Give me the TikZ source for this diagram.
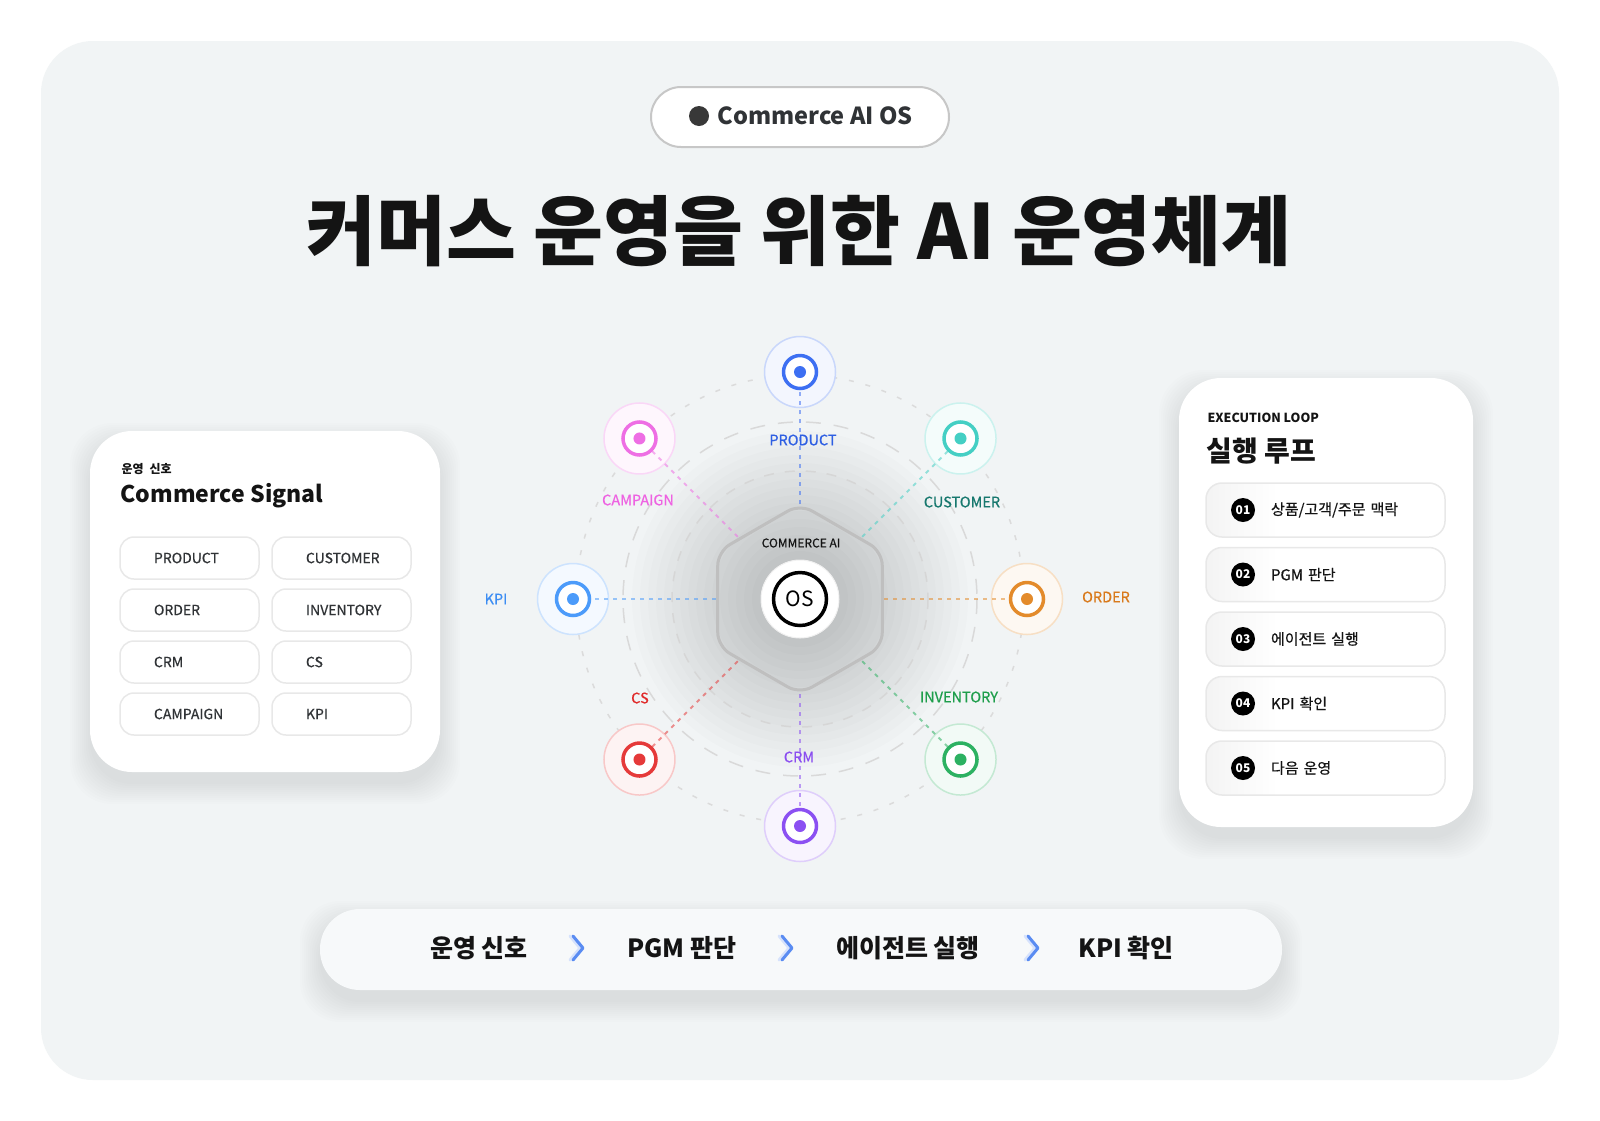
\documentclass[tikz,border=0pt]{standalone}
\usepackage{fontspec}
\setmainfont{Noto Sans CJK KR}
\newfontface\krmed{Noto Sans CJK KR}[FakeBold=0.6]
\usepackage{tikz}
\usetikzlibrary{calc}
\usetikzlibrary{arrows.meta}

\definecolor{pagebg}{HTML}{F1F4F5}
\definecolor{barbg}{HTML}{F7F9FA}
\definecolor{inkdark}{HTML}{141414}
\definecolor{inkmid}{HTML}{303336}
\definecolor{chevblue}{HTML}{5A8CF2}
\definecolor{cproduct}{HTML}{3D6FF2}
\definecolor{ccustomer}{HTML}{45CFC4}
\definecolor{corder}{HTML}{E38B2C}
\definecolor{cinventory}{HTML}{2DB162}
\definecolor{ccrm}{HTML}{8B50F2}
\definecolor{ccs}{HTML}{E53A3A}
\definecolor{ckpi}{HTML}{4C9BFA}
\definecolor{ccampaign}{HTML}{EE6FE4}
\definecolor{lproduct}{HTML}{2E5FE3}
\definecolor{lcustomer}{HTML}{17786E}
\definecolor{lorder}{HTML}{D97A1C}
\definecolor{linventory}{HTML}{1E9E4B}
\definecolor{lcrm}{HTML}{8A4DF0}
\definecolor{lcs}{HTML}{E02A2A}
\definecolor{lkpi}{HTML}{3C8DF3}
\definecolor{lcampaign}{HTML}{EE62E2}

\pgfdeclarehorizontalshading{itemfade}{100bp}{color(0bp)=(black!12);color(40bp)=(white);color(100bp)=(white)}

\newcommand\cardshadow[3]{%
  \foreach \s in {0,2,...,20}
    \fill[black, opacity=0.006, rounded corners=#3] ($(#1)+(-\s,-\s+12)$) rectangle ($(#2)+(\s,\s+12)$);
}

\tikzset{
  card/.style={fill=white, rounded corners=42pt},
  pill/.style={draw=black!22, line width=2pt, fill=white, rounded corners=30pt, minimum width=298pt, minimum height=60pt},
  chip/.style={draw=black!9, line width=1.5pt, fill=white, rounded corners=14pt, minimum height=42pt, inner sep=0pt, text width=139pt, align=left, text=inkmid, font=\krmed\fontsize{14}{16}\selectfont},
  loopitem/.style={draw=black!9, line width=1.5pt, shading=itemfade, rounded corners=16pt, minimum height=54pt, inner sep=0pt, text width=239pt, align=left, text=inkdark, font=\krmed\fontsize{15}{17}\selectfont},
  numbadge/.style={circle, fill=black, text=white, inner sep=0pt, minimum size=24pt, font=\bfseries\fontsize{12}{12}\selectfont},
  flowstep/.style={text=inkdark, font=\bfseries\fontsize{25}{28}\selectfont},
  chev/.style={line width=3pt, line cap=round, line join=round},
  halo/.style={circle, inner sep=0pt, minimum size=71pt, line width=1.5pt},
  ring/.style={circle, inner sep=0pt, minimum size=33pt, line width=3.5pt, fill=white},
  spoke/.style={dash pattern=on 4pt off 5pt, line width=2pt, opacity=0.55},
  siglabel/.style={font=\krmed\fontsize{14.5}{16}\selectfont},
}

\begin{document}
\begin{tikzpicture}[x=1pt, y=-1pt]
\useasboundingbox (0,0) rectangle (1600,1120);
\fill[white] (0,0) rectangle (1600,1120);
\fill[pagebg, rounded corners=52pt] (41,41) rectangle (1559,1080);

% header
\node[pill] (badge) at (800,117) {};
\fill[black!78] (699,116) circle (10);
\node[anchor=west, text=inkmid, font=\bfseries\fontsize{23.5}{26}\selectfont] (badgetext) at (714,116) {Commerce AI OS};
\node[anchor=base, text=inkdark, font=\bfseries\fontsize{76}{84}\selectfont] (title) at (799,259) {커머스 운영을 위한 AI 운영체계};

% left card
\cardshadow{90,431}{440,772}{42pt}
\fill[card] (90,431) rectangle (440,772);
\node[anchor=west, text=inkdark, font=\bfseries\fontsize{12}{14}\selectfont] (sigsub) at (118,469) {운영\hspace{0.5em}신호};
\node[anchor=west, text=inkdark, font=\bfseries\fontsize{23}{26}\selectfont] (sigtitle) at (117,496) {Commerce Signal};
\foreach \lab/\col/\row [count=\i] in {PRODUCT/0/0, CUSTOMER/1/0, ORDER/0/1, INVENTORY/1/1, CRM/0/2, CS/1/2, CAMPAIGN/0/3, KPI/1/3}
  \node[chip] (chip\i) at (189.5+152*\col, 558+52*\row) {\hspace*{34pt}\lab};

% right card
\cardshadow{1179,378}{1473,827}{44pt}
\fill[card] (1179,378) rectangle (1473,827);
\node[anchor=west, text=inkdark, font=\bfseries\fontsize{12.5}{14}\selectfont] (loopsub) at (1204,418) {EXECUTION LOOP};
\node[anchor=west, text=inkdark, font=\bfseries\fontsize{28}{30}\selectfont] (looptitle) at (1203,451) {실행 루프};
\foreach \txt [count=\i] in {상품/고객/주문 맥락, PGM 판단, 에이전트 실행, KPI 확인, 다음 운영}{
  \node[loopitem] (item\i) at (1325.5, 445.5+64.5*\i) {\hspace*{65pt}\txt};
  \node[numbadge] (num\i) at (1243, 445.5+64.5*\i) {0\i};
}

% bottom flow
\cardshadow{320,909}{1282,990}{40pt}
\fill[barbg, rounded corners=40pt] (320,909) rectangle (1282,990);
\node[flowstep] (step1) at (479,948) {운영 신호};
\node[flowstep] (step2) at (682,948) {PGM 판단};
\node[flowstep] (step3) at (908,948) {에이전트 실행};
\node[flowstep] (step4) at (1126,948) {KPI 확인};
\foreach \c in {578,787,1033}{
  \coordinate (chev) at (\c,948);
  \draw[chev, chevblue!25] ($(chev)+(-8,-12)$) -- ($(chev)+(2,0)$) -- ($(chev)+(-8,12)$);
  \draw[chev, chevblue] ($(chev)+(-5,-12)$) -- ($(chev)+(5,0)$) -- ($(chev)+(-5,12)$);
}

% hub
\coordinate (hub) at (800,599);
\foreach \r in {40,48,...,168}
  \fill[black, opacity=0.011] (hub) circle (\r);
\draw[black!14, line width=1.5pt, dash pattern=on 5pt off 12pt] (hub) circle (224);
\draw[black!15, line width=1.5pt, dash pattern=on 15pt off 13pt] (hub) circle (177);
\draw[black!16, line width=1.5pt, dash pattern=on 10pt off 11pt] (hub) circle (128);

\foreach \nm/\ang/\col/\cut in {nproduct/-90/cproduct/95, ncustomer/-45/ccustomer/88, norder/0/corder/84, ninventory/45/cinventory/88, ncrm/90/ccrm/95, ncs/135/ccs/88, nkpi/180/ckpi/84, ncampaign/225/ccampaign/88}{
  \node[halo, draw=\col!28, fill=\col!6] (\nm) at ($(hub)+(\ang:227)$) {};
  \draw[spoke, \col, shorten <=\cut pt, shorten >=16pt] (hub) -- (\nm.center);
  \node[ring, draw=\col] (\nm ring) at (\nm) {};
  \fill[\col] (\nm) circle (6);
}

\draw[black!25, line width=3pt, rounded corners=14pt] ($(hub)+(-90:95)$) \foreach \a in {-30,30,90,150,210} { -- ($(hub)+(\a:95)$) } -- cycle;
\node[text=inkdark, font=\krmed\fontsize{12}{14}\selectfont] (hubtitle) at (801,543) {COMMERCE AI};
\node[circle, fill=white, draw=black!6, line width=1pt, minimum size=78pt] (osdisk) at (hub) {};
\node[circle, draw=black, line width=3.5pt, minimum size=53pt, inner sep=0pt, font=\fontsize{21}{22}\selectfont] (os) at (hub) {OS};

\node[siglabel, text=lproduct] (lbproduct) at ($(hub)+(3,-159)$) {PRODUCT};
\node[siglabel, text=lcustomer] (lbcustomer) at ($(hub)+(162,-97)$) {CUSTOMER};
\node[siglabel, text=lorder] (lborder) at ($(hub)+(306,-2)$) {ORDER};
\node[siglabel, text=linventory] (lbinventory) at ($(hub)+(159,98)$) {INVENTORY};
\node[siglabel, text=lcrm] (lbcrm) at ($(hub)+(-1,158)$) {CRM};
\node[siglabel, text=lcs] (lbcs) at ($(hub)+(-160,99)$) {CS};
\node[siglabel, text=lkpi] (lbkpi) at ($(hub)+(-304,0)$) {KPI};
\node[siglabel, text=lcampaign] (lbcampaign) at ($(hub)+(-162,-99)$) {CAMPAIGN};

\end{tikzpicture}
\end{document}
